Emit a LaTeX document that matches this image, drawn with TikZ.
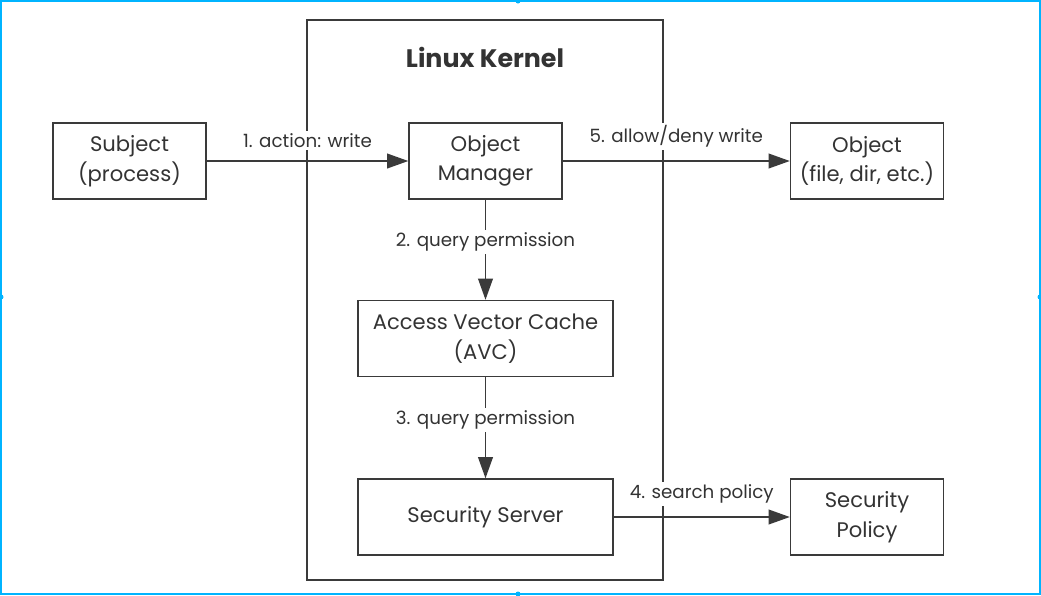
\documentclass[tikz,border=0pt]{standalone}
\usepackage{fontspec}
\setmainfont{Poppins}
\usepackage{tikz}
\usetikzlibrary{arrows.meta,positioning,calc}
\definecolor{linegray}{HTML}{3A3A3A}
\definecolor{textgray}{HTML}{333333}
\definecolor{selblue}{HTML}{00B4FF}

\begin{document}
\begin{tikzpicture}[
			x=0.025cm, y=-0.025cm,
			box/.style={draw=linegray, line width=1pt, minimum width=3.825cm, minimum height=1.9cm,
					align=center, inner sep=0pt, text=textgray, font=\fontsize{15}{21}\selectfont},
			widebox/.style={box, minimum width=6.375cm},
			lbl/.style={fill=white, inner sep=2pt, text=textgray, font=\fontsize{13}{15}\selectfont},
			flow/.style={draw=linegray, line width=1pt, -{Triangle[length=0.53cm,width=0.37cm]}}
		]

		\useasboundingbox (0,0) rectangle (1041,595);
		\draw[selblue, line width=1.5pt] (1,1) rectangle (1040,594);
		\foreach \hx/\hy in {518/1, 1/297, 1040/297, 518/594}
		\fill[selblue] (\hx,\hy) circle (2.5);

		% kernel frame
		\node[draw=linegray, line width=1pt, minimum width=8.9cm, minimum height=14cm] (kernel) at (485,300) {};
		\node[text=textgray, font=\fontsize{18}{20}\selectfont\bfseries] (title) at (485,57) {Linux Kernel};

		\node[box] (subj) at (129.5,161) {Subject\\(process)};
		\node[box] (om) at (485.5,161) {Object\\Manager};
		\node[box] (obj) at (867,161) {Object\\(file, dir, etc.)};
		\node[widebox] (avc) at (485.5,338.5) {Access Vector Cache\\(AVC)};
		\node[widebox] (ss) at (485.5,517) {Security Server};
		\node[box] (pol) at (867,517) {Security\\Policy};

		\draw[flow] (subj) -- node[lbl, above=7pt] {1. action: write} (om);
		\draw[flow] (om) -- node[lbl, above=7pt] {5. allow/deny write} (obj);
		\draw[flow] (om) -- node[lbl, pos=0.42] {2. query permission} (avc);
		\draw[flow] (avc) -- node[lbl, pos=0.42] {3. query permission} (ss);
		\draw[flow] (ss) -- node[lbl, above=7pt] {4. search policy} (pol);

	\end{tikzpicture}
\end{document}
